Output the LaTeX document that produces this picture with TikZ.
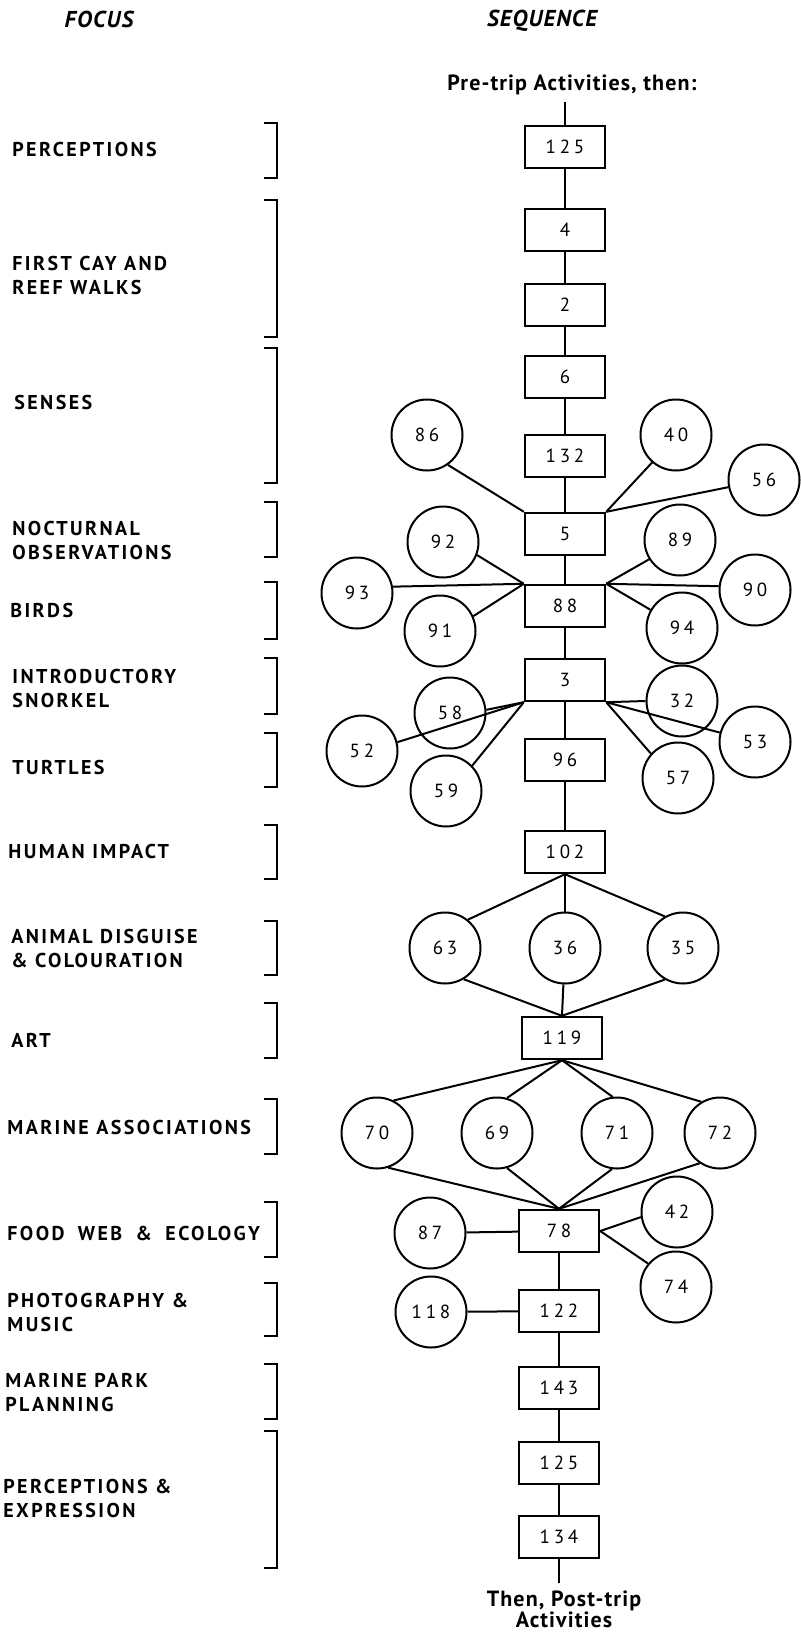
\documentclass[tikz,border=0pt]{standalone}
\usepackage{fontspec}
\setmainfont{PT Sans}
\newfontfamily\numfont[LetterSpace=20]{PT Sans}
\newfontfamily\labfont[LetterSpace=12]{PT Sans}
\newfontfamily\headfont[LetterSpace=5]{PT Sans}
\usetikzlibrary{positioning}
\newcommand{\focusbrk}[2]{\draw[brk] (264,#1) -- (277,#1) -- (277,#2) -- (264,#2);}

\begin{document}
\begin{tikzpicture}[x=0.5pt, y=-0.5pt,
    box/.style={draw, line width=1.2pt, minimum width=40pt, minimum height=21pt,
                inner sep=0pt, font=\numfont\fontsize{9.5}{10}\selectfont},
    circ/.style={draw, circle, line width=1pt, minimum size=35.5pt,
                 inner sep=0pt, font=\numfont\fontsize{9.5}{10}\selectfont},
    link/.style={line width=1pt},
    brk/.style={line width=1.1pt},
    lab/.style={anchor=west, align=left, inner sep=0pt,
                font=\labfont\bfseries\fontsize{10}{12}\selectfont},
    head/.style={inner sep=0pt, font=\headfont\bfseries\itshape\fontsize{11.5}{12}\selectfont},
    trip/.style={align=center, inner sep=0pt, font=\headfont\bfseries\fontsize{11}{10.5}\selectfont}
  ]
  \fill[white] (0,0) rectangle (801,1637);
  \useasboundingbox (0,0) rectangle (801,1637);

  \node[head] (focus) at (99,19)  {FOCUS};
  \node[head] (seq)   at (542,21) {SEQUENCE};
  \node[trip] (pre)   at (572,85) {Pre-trip Activities, then:};
  \node[trip] (post)  at (564,1609) {Then, Post-trip\\Activities};
  \coordinate (startl) at (565,102);
  \coordinate (endl)   at (559,1583);

  \node[lab] (fperc)  at (12,150)  {PERCEPTIONS};
  \node[lab] (fcay)   at (12,275)  {FIRST CAY AND\\REEF WALKS};
  \node[lab] (fsens)  at (14,402)  {SENSES};
  \node[lab] (fnoct)  at (12,540)  {NOCTURNAL\\OBSERVATIONS};
  \node[lab] (fbird)  at (10,610)  {BIRDS};
  \node[lab] (fsnork) at (12,688)  {INTRODUCTORY\\SNORKEL};
  \node[lab] (fturt)  at (12,767)  {TURTLES};
  \node[lab] (fhum)   at (8,851)   {HUMAN IMPACT};
  \node[lab] (fdisg)  at (11,948)  {ANIMAL DISGUISE\\\& COLOURATION};
  \node[lab] (fart)   at (11,1040) {ART};
  \node[lab] (fassoc) at (7,1127)  {MARINE ASSOCIATIONS};
  \node[lab] (fweb)   at (7,1233)  {FOOD\hspace{3pt} WEB\hspace{3pt} \&\hspace{3pt} ECOLOGY};
  \node[lab] (fphoto) at (7,1312)  {PHOTOGRAPHY \&\\MUSIC};
  \node[lab] (fpark)  at (5,1393)  {MARINE PARK\\PLANNING};
  \node[lab] (fexpr)  at (3,1498)  {PERCEPTIONS \&\\EXPRESSION};

  \focusbrk{123}{178}
  \focusbrk{200}{337}
  \focusbrk{348}{483}
  \focusbrk{502}{557}
  \focusbrk{582}{639}
  \focusbrk{658}{714}
  \focusbrk{733}{787}
  \focusbrk{825}{879}
  \focusbrk{921}{975}
  \focusbrk{1003}{1058}
  \focusbrk{1099}{1154}
  \focusbrk{1202}{1257}
  \focusbrk{1283}{1336}
  \focusbrk{1364}{1419}
  \focusbrk{1431}{1568}

  \node[box] (b125a) at (565,147)  {125};
  \node[box] (b4)    at (565,230)  {4};
  \node[box] (b2)    at (565,305)  {2};
  \node[box] (b6)    at (565,377)  {6};
  \node[box] (b132)  at (565,456)  {132};
  \node[box] (b5)    at (565,534)  {5};
  \node[box] (b88)   at (565,606)  {88};
  \node[box] (b3)    at (565,680)  {3};
  \node[box] (b96)   at (565,760)  {96};
  \node[box] (b102)  at (565,852)  {102};
  \node[box] (b119)  at (562,1038) {119};
  \node[box] (b78)   at (559,1231) {78};
  \node[box] (b122)  at (559,1311) {122};
  \node[box] (b143)  at (559,1388) {143};
  \node[box] (b125b) at (559,1463) {125};
  \node[box] (b134)  at (559,1537) {134};

  \node[circ] (c86)  at (427,435)  {86};
  \node[circ] (c40)  at (676,435)  {40};
  \node[circ] (c56)  at (764,480)  {56};
  \node[circ] (c92)  at (443,542)  {92};
  \node[circ] (c89)  at (680,540)  {89};
  \node[circ] (c93)  at (357,593)  {93};
  \node[circ] (c90)  at (755,590)  {90};
  \node[circ] (c91)  at (440,631)  {91};
  \node[circ] (c94)  at (682,628)  {94};
  \node[circ] (c58)  at (450,713)  {58};
  \node[circ] (c52)  at (362,751)  {52};
  \node[circ] (c59)  at (446,791)  {59};
  \node[circ] (c32)  at (682,701)  {32};
  \node[circ] (c53)  at (755,742)  {53};
  \node[circ] (c57)  at (678,778)  {57};
  \node[circ] (c63)  at (445,948)  {63};
  \node[circ] (c36)  at (565,948)  {36};
  \node[circ] (c35)  at (683,948)  {35};
  \node[circ] (c70)  at (377,1133) {70};
  \node[circ] (c69)  at (497,1133) {69};
  \node[circ] (c71)  at (617,1133) {71};
  \node[circ] (c72)  at (720,1133) {72};
  \node[circ] (c87)  at (430,1233) {87};
  \node[circ] (c42)  at (677,1212) {42};
  \node[circ] (c74)  at (676,1287) {74};
  \node[circ] (c118) at (431,1312) {118};

  \draw[link] (startl) -- (b125a);
  \draw[link] (b125a) -- (b4);
  \draw[link] (b4) -- (b2);
  \draw[link] (b2) -- (b6);
  \draw[link] (b6) -- (b132);
  \draw[link] (b132) -- (b5);
  \draw[link] (b5) -- (b88);
  \draw[link] (b88) -- (b3);
  \draw[link] (b3) -- (b96);
  \draw[link] (b96) -- (b102);
  \draw[link] (b78) -- (b122);
  \draw[link] (b122) -- (b143);
  \draw[link] (b143) -- (b125b);
  \draw[link] (b125b) -- (b134);
  \draw[link] (b134) -- (endl);

  \draw[link] (c86.-55) -- (b5.north west);
  \draw[link] (c40.-131) -- (b5.north east);
  \draw[link] (c56) -- (b5.north east);
  \draw[link] (c92.-21) -- (b88.north west);
  \draw[link] (c93.10) -- (b88.north west);
  \draw[link] (c91.24) -- (b88.north west);
  \draw[link] (c89.-148) -- (b88.north east);
  \draw[link] (c90.174) -- (b88.north east);
  \draw[link] (c94.150) -- (b88.north east);
  \draw[link] (c52.14) -- (b3.south west);
  \draw[link] (c58.5) -- (b3.south west);
  \draw[link] (c59.44) -- (b3.south west);
  \draw[link] (c32.west) -- (b3.south east);
  \draw[link] (c53.165) -- (b3.south east);
  \draw[link] (c57.138) -- (b3.south east);

  \draw[link] (b102.south) -- (c63.51);
  \draw[link] (b102.south) -- (c36);
  \draw[link] (b102.south) -- (c35.120);
  \draw[link] (c63.-59) -- (b119.north);
  \draw[link] (c36) -- (b119.north);
  \draw[link] (c35.-120) -- (b119.north);
  \draw[link] (b119.south) -- (c70.63);
  \draw[link] (b119.south) -- (c69.74);
  \draw[link] (b119.south) -- (c71.97);
  \draw[link] (b119.south) -- (c72.121);
  \draw[link] (c70.-72) -- (b78.north);
  \draw[link] (c69.-74) -- (b78.north);
  \draw[link] (c71.-98) -- (b78.north);
  \draw[link] (c72.-124) -- (b78.north);
  \draw[link] (c87) -- (b78);
  \draw[link] (c42.-172) -- (b78.east);
  \draw[link] (c74.140) -- (b78.east);
  \draw[link] (c118) -- (b122);
\end{tikzpicture}
\end{document}
